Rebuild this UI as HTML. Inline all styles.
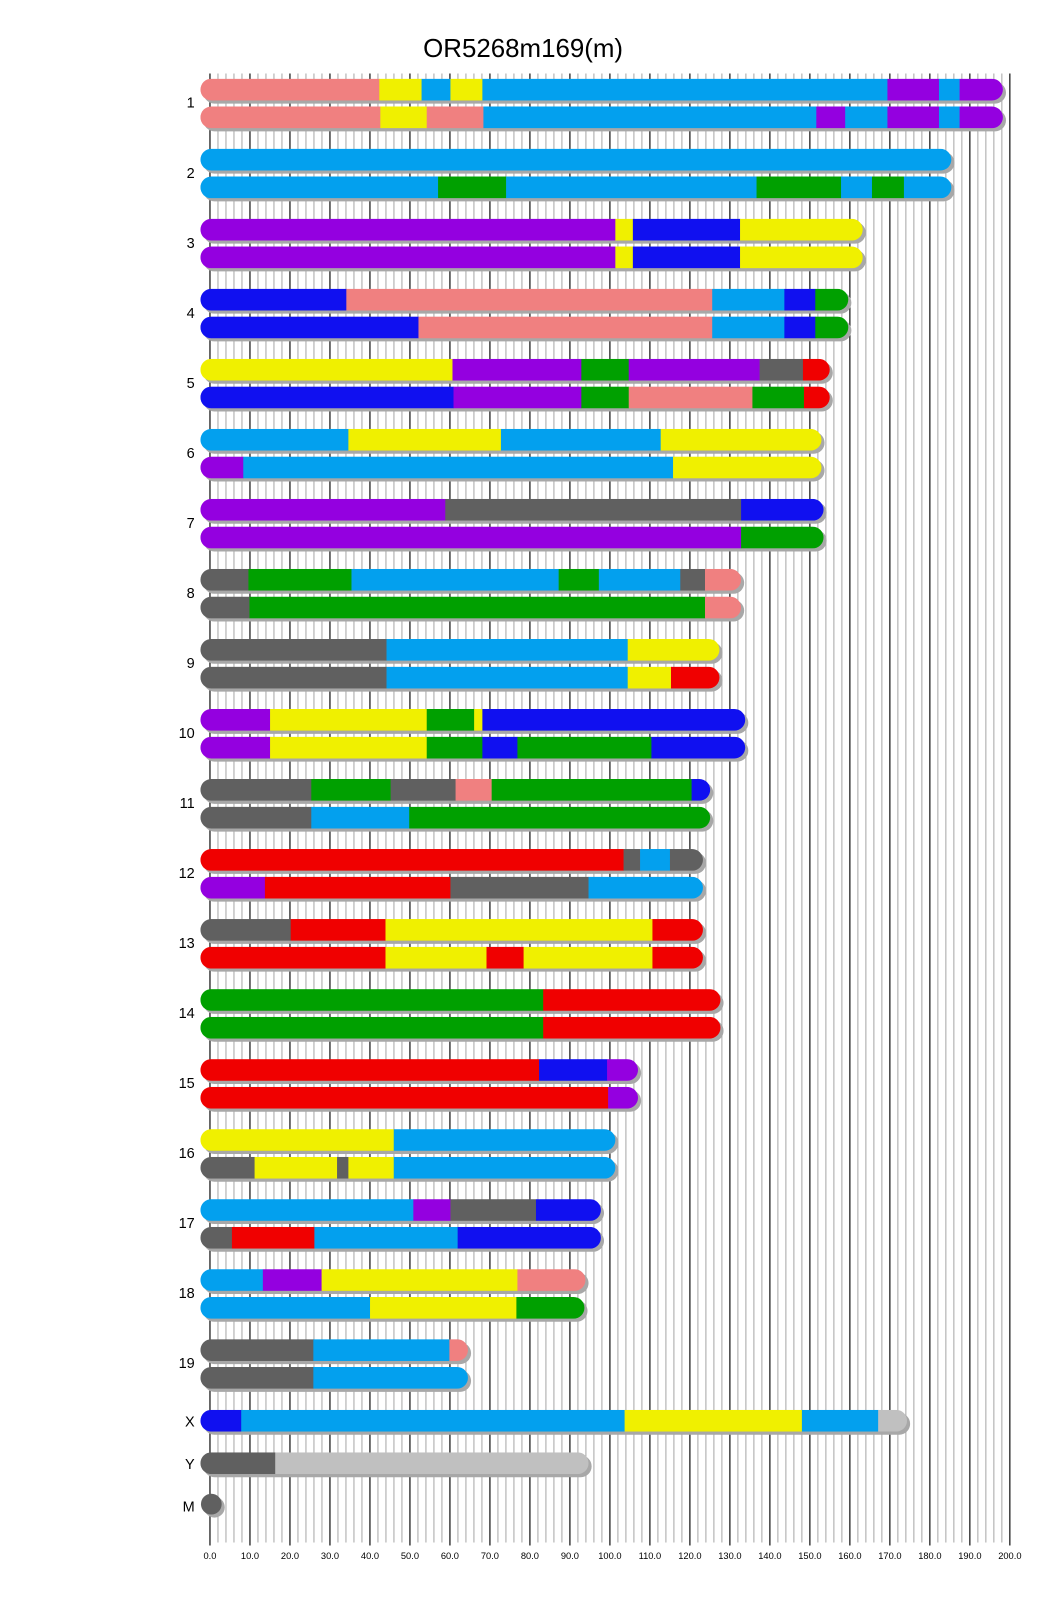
<!DOCTYPE html>
<html><head><meta charset="utf-8"><style>html,body{margin:0;padding:0;background:#fff}svg{display:block}</style></head>
<body>
<svg id="s" xmlns="http://www.w3.org/2000/svg" width="1040" height="1616" viewBox="0 0 1004 1560" preserveAspectRatio="none" font-family="Liberation Sans, sans-serif">
<rect width="1004" height="1560" fill="#fff"/>
<g id="grid"></g>
<g id="bars"></g>
<text x="505" y="55" font-size="25" text-anchor="middle" fill="#000">OR5268m169(m)</text>
<g id="labels" font-size="14" text-anchor="end" fill="#000"></g>
<g id="ticks" font-size="9" text-anchor="middle" fill="#000"></g>
</svg>
<script>
const NS="http://www.w3.org/2000/svg";
function el(p,t,a){const e=document.createElementNS(NS,t);for(const k in a)e.setAttribute(k,a[k]);p.appendChild(e);return e;}
const grid=document.getElementById('grid'),bars=document.getElementById('bars'),labels=document.getElementById('labels'),ticks=document.getElementById('ticks');
const x0=202.7,u=3.861;
for(let i=0;i<=100;i++){const x=x0+i*u*2;const blk=i%5==0;
 el(grid,'line',{x1:x,x2:x,y1:71,y2:blk?1492:1489,stroke:blk?'#000':'#a8a8a8','stroke-width':blk?1.1:1});}
for(let k=0;k<=20;k++){const t=el(ticks,'text',{x:x0+k*38.61,y:1505});t.textContent=(k*10).toFixed(1);}
const C={s:'#F08080',y:'#F0F000',l:'#03A0EE',p:'#9400E0',b:'#1010F0',g:'#00A000',d:'#606060',r:'#F00000',k:'#C0C0C0'};
const X=x=>203+(x-203)*0.995;
const data=[
['1',[['s',367],['y',408],['l',436],['y',467],['l',860],['p',910],['l',930],['p',972]],
     [['s',368],['y',413],['s',468],['l',791],['p',819],['l',860],['p',910],['l',930],['p',972]]],
['2',[['l',922]],[['l',424],['g',490],['l',733],['g',815],['l',845],['g',876],['l',922]]],
['3',[['p',596],['y',613],['b',717],['y',836]],[['p',596],['y',613],['b',717],['y',836]]],
['4',[['b',335],['s',690],['l',760],['b',790],['g',822]],[['b',405],['s',690],['l',760],['b',790],['g',822]]],
['5',[['y',438],['p',563],['g',609],['p',736],['d',778],['r',804]],[['b',439],['p',563],['g',609],['s',729],['g',779],['r',804]]],
['6',[['l',337],['y',485],['l',640],['y',796]],[['p',235],['l',652],['y',796]]],
['7',[['p',431],['d',718],['b',798]],[['p',718],['g',798]]],
['8',[['d',240],['g',340],['l',541],['g',580],['l',659],['d',683],['s',718]],[['d',241],['g',683],['s',718]]],
['9',[['d',374],['l',608],['y',697]],[['d',374],['l',608],['y',650],['r',697]]],
['10',[['p',261],['y',413],['g',459],['y',467],['b',722]],[['p',261],['y',413],['g',467],['b',501],['g',631],['b',722]]],
['11',[['d',301],['g',378],['d',441],['s',476],['g',670],['b',688]],[['d',301],['l',396],['g',688]]],
['12',[['r',604],['d',620],['l',649],['d',681]],[['p',256],['r',436],['d',570],['l',681]]],
['13',[['d',281],['r',373],['y',632],['r',681]],[['r',373],['y',471],['r',507],['y',632],['r',681]]],
['14',[['g',526],['r',698]],[['g',526],['r',698]]],
['15',[['r',522],['b',588],['p',618]],[['r',589],['p',618]]],
['16',[['y',381],['l',596]],[['d',246],['y',326],['d',337],['y',381],['l',596]]],
['17',[['l',400],['p',436],['d',519],['b',582]],[['d',224],['r',304],['l',443],['b',582]]],
['18',[['l',254],['p',311],['y',501],['s',567]],[['l',358],['y',500],['g',566]]],
['19',[['d',303],['l',435],['s',453]],[['d',303],['l',453]]]
];
let cid=0;
function bar(y,segs){const h=21,L=193.5,R=X(segs[segs.length-1][1]),r=10.5;
 el(bars,'rect',{x:L+3,y:y+3,width:R-L,height:h,rx:r,ry:r,fill:'#a8a8a8'});
 const id='c'+(cid++);const cp=el(bars,'clipPath',{id});el(cp,'rect',{x:L,y:y,width:R-L,height:h,rx:r,ry:r});
 const g=el(bars,'g',{'clip-path':'url(#'+id+')'});let s=L;
 for(const [c,e0] of segs){const e=X(e0);el(g,'rect',{x:s,y:y,width:e-s+0.3,height:h,fill:C[c]});s=e;}}
data.forEach((d,i)=>{const t=76+67.6*i;bar(t,d[1]);bar(t+26.8,d[2]);
 const tx=el(labels,'text',{x:188,y:t+28});tx.textContent=d[0];});
bar(1361,[['b',233],['l',605],['y',777],['l',851],['k',879]]);
let tx=el(labels,'text',{x:188,y:1377});tx.textContent='X';
bar(1402,[['d',266],['k',570]]);
tx=el(labels,'text',{x:188,y:1418});tx.textContent='Y';
el(bars,'circle',{cx:207,cy:1455,r:10,fill:'#a8a8a8'});
el(bars,'circle',{cx:204,cy:1452,r:10,fill:'#606060'});
tx=el(labels,'text',{x:188,y:1459});tx.textContent='M';
</script>
</body></html>
